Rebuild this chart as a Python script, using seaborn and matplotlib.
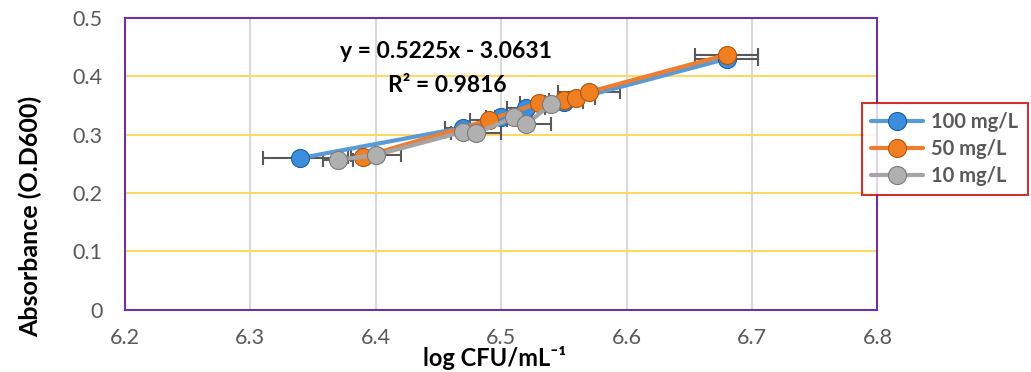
import numpy as np
import pandas as pd
import matplotlib
matplotlib.use('Agg')
import matplotlib.pyplot as plt
import seaborn as sns

# data
x_100 = [6.34, 6.47, 6.50, 6.52, 6.55, 6.68]
y_100 = [0.260, 0.312, 0.330, 0.345, 0.356, 0.430]
e_100 = [0.030, 0.015, 0.012, 0.015, 0.015, 0.025]

x_50 = [6.39, 6.49, 6.53, 6.55, 6.56, 6.57, 6.68]
y_50 = [0.262, 0.325, 0.354, 0.360, 0.362, 0.373, 0.437]
e_50 = [0.012, 0.015, 0.015, 0.012, 0.015, 0.025, 0.025]

x_10 = [6.37, 6.40, 6.47, 6.48, 6.51, 6.52, 6.54]
y_10 = [0.257, 0.265, 0.305, 0.302, 0.330, 0.318, 0.352]
e_10 = [0.012, 0.020, 0.015, 0.020, 0.015, 0.020, 0.012]

labels = ['100 mg/L', '50 mg/L', '10 mg/L']
line_colors = ['#5B9BD5', '#ED7D31', '#A5A5A5']
marker_colors = ['#3A8EDB', '#F07F22', '#B0B0B0']
edge_colors = ['#1F5E9E', '#B3540F', '#7A7A7A']

x_ticks = [6.2, 6.3, 6.4, 6.5, 6.6, 6.7, 6.8]
y_ticks = [0, 0.1, 0.2, 0.3, 0.4, 0.5]
equation = 'y = 0.5225x - 3.0631'
r_squared = 'R² = 0.9816'

sns.set_style('white')
plt.rcParams['font.family'] = ['Lato', 'DejaVu Sans']

fig = plt.figure(figsize=(10.31, 3.72), dpi=100)
ax = fig.add_axes([0.121, 0.167, 0.730, 0.785])

series = [(x_100, y_100, e_100), (x_50, y_50, e_50), (x_10, y_10, e_10)]
for (xs, ys, es), lab, lc, mc, ec in zip(series, labels, line_colors, marker_colors, edge_colors):
    df = pd.DataFrame({'x': xs, 'y': ys})
    ax.errorbar(xs, ys, xerr=es, fmt='none', ecolor='#595959', elinewidth=1.5,
                capsize=5, capthick=1.5, zorder=2)
    sns.lineplot(data=df, x='x', y='y', ax=ax, color=lc, linewidth=3, sort=True,
                 marker='o', markersize=13, markerfacecolor=mc, markeredgecolor=ec,
                 markeredgewidth=0.8, label=lab, zorder=3)

ax.set_xlim(6.2, 6.8)
ax.set_ylim(0, 0.5)
ax.set_xticks(x_ticks)
ax.set_yticks(y_ticks)
ax.set_xticklabels([f'{v:.1f}' for v in x_ticks])
ax.set_yticklabels(['0'] + [f'{v:.1f}' for v in y_ticks[1:]])
ax.tick_params(axis='both', length=0, labelsize=15.5, labelcolor='#595959')
ax.tick_params(axis='x', pad=13)
ax.tick_params(axis='y', pad=16)

for v in x_ticks[1:-1]:
    ax.axvline(v, color='#D9D9D9', linewidth=1.5, zorder=0)
for v in y_ticks[1:-1]:
    ax.axhline(v, color='#FFD966', linewidth=1.5, zorder=0)

for s in ax.spines.values():
    s.set_color('#7030A0')
    s.set_linewidth(1.5)

ax.set_xlabel('log CFU/mL⁻¹', fontsize=17, fontweight='bold', color='black')
ax.set_ylabel('Absorbance (O.D600)', fontsize=18, fontweight='bold', color='black')
ax.xaxis.set_label_coords(0.492, -0.122)
ax.yaxis.set_label_coords(-0.11, 0.32)

ax.text(0.427, 0.884, equation, transform=ax.transAxes, ha='center', va='center',
        fontsize=16.5, fontweight='bold', color='black')
ax.text(0.428, 0.77, r_squared, transform=ax.transAxes, ha='center', va='center',
        fontsize=16.5, fontweight='bold', color='black')

leg = ax.legend(loc='upper left', bbox_to_anchor=(0.836, 0.723),
                bbox_transform=fig.transFigure, frameon=True, fancybox=False,
                fontsize=14.5, handlelength=2.6, borderpad=0.45, labelspacing=0.35,
                handletextpad=0.4, borderaxespad=0)
leg.get_frame().set_edgecolor('#C00000')
leg.get_frame().set_linewidth(1.5)
for t in leg.get_texts():
    t.set_fontweight('bold')
    t.set_color('#595959')

fig.savefig('out.png', dpi=100)
